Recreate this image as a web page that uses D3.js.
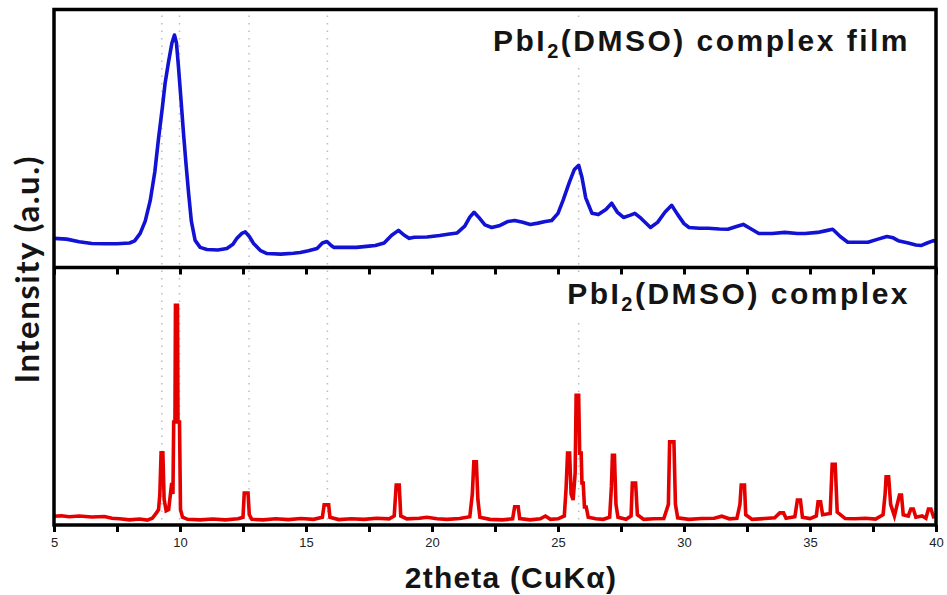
<!DOCTYPE html>
<html>
<head>
<meta charset="utf-8">
<script src="https://cdn.jsdelivr.net/npm/d3@7/dist/d3.min.js"></script>
<style>
  body { margin: 0; background: #fff; }
  svg { display: block; }
</style>
</head>
<body>
<svg id="chart" width="947" height="595"></svg>
<script>
// XRD pattern of the spin-coated PbI2(DMSO) film: [2theta (deg), intensity (a.u.)]
const filmXRD = [
  [5.0,11.3],[5.5,11.0],[6.0,10.0],[6.5,9.3],[7.0,9.2],[7.5,9.2],[8.0,9.5],[8.2,10.3],
  [8.42,13.2],[8.62,18.0],[8.82,26.0],[9.0,37.0],[9.14,49.3],[9.3,62.0],[9.41,71.5],
  [9.55,80.0],[9.68,87.0],[9.78,90.1],[9.86,87.0],[9.94,77.7],[10.04,65.0],[10.14,51.9],
  [10.24,40.0],[10.34,28.9],[10.45,18.0],[10.6,10.5],[10.8,7.8],[11.07,7.0],[11.5,6.8],
  [11.86,7.4],[12.1,9.0],[12.26,11.3],[12.45,13.2],[12.59,13.8],[12.75,12.0],[12.92,9.3],
  [13.2,6.5],[13.45,5.4],[14.0,5.2],[14.5,5.5],[14.77,5.8],[15.1,6.5],[15.44,7.4],
  [15.65,9.5],[15.83,10.1],[16.0,8.5],[16.1,7.8],[16.5,7.8],[17.0,7.8],[17.5,8.3],
  [17.75,8.5],[18.1,9.5],[18.4,12.5],[18.67,14.4],[18.9,12.5],[19.1,11.3],[19.3,11.7],
  [19.8,11.8],[20.3,12.4],[20.7,13.0],[21.0,13.4],[21.3,16.0],[21.5,19.5],[21.67,21.4],
  [21.85,19.5],[22.1,16.5],[22.37,15.5],[22.7,16.3],[23.0,17.8],[23.28,18.2],[23.6,17.5],
  [23.9,16.7],[24.2,17.2],[24.5,17.8],[24.75,18.2],[25.0,21.0],[25.2,26.0],[25.45,33.0],
  [25.65,38.0],[25.82,39.6],[25.95,35.0],[26.1,27.0],[26.35,21.0],[26.6,20.5],[26.9,22.5],
  [27.13,24.9],[27.35,21.5],[27.6,19.4],[27.85,20.2],[28.05,21.0],[28.3,19.0],[28.67,15.5],
  [28.95,17.5],[29.25,21.5],[29.51,24.1],[29.75,20.5],[30.0,17.0],[30.2,15.5],[30.6,15.2],
  [30.96,15.2],[31.4,14.9],[31.74,14.8],[32.05,15.8],[32.35,16.7],[32.65,15.0],[32.97,13.2],
  [33.5,13.2],[34.0,13.6],[34.5,13.2],[34.8,13.2],[35.3,13.6],[35.6,14.2],[35.9,14.8],
  [36.2,12.0],[36.5,9.8],[36.9,9.8],[37.3,9.8],[37.7,11.0],[38.05,12.0],[38.3,11.5],
  [38.5,10.4],[38.9,9.5],[39.2,8.7],[39.4,8.5],[39.65,9.5],[39.9,10.4],[40.0,10.2]
];

// XRD pattern of the PbI2(DMSO) complex powder: [2theta (deg), intensity (a.u.)]
const complexXRD = [
  [5.0,3.4],[5.3,3.6],[5.6,3.2],[6.0,3.5],[6.5,3.1],[7.0,3.3],[7.3,2.6],[7.6,2.4],[8.0,2.0],
  [8.4,2.3],[8.7,1.9],[8.9,2.6],[9.05,4.5],[9.15,6.0],[9.2,12.0],[9.25,28.0],[9.32,28.0],
  [9.37,10.0],[9.45,5.5],[9.55,6.0],[9.62,12.0],[9.67,16.3],[9.72,12.0],[9.75,40.0],
  [9.8,40.0],[9.82,85.3],[9.9,85.3],[9.92,40.0],[9.98,40.0],[10.02,6.0],[10.1,3.0],
  [10.3,2.2],[10.8,2.0],[11.3,2.3],[11.8,2.0],[12.3,2.4],[12.5,3.0],[12.55,12.4],[12.7,12.4],
  [12.75,4.0],[12.85,2.2],[13.3,2.0],[13.8,2.4],[14.3,2.1],[14.8,2.5],[15.3,2.2],[15.65,3.0],
  [15.72,7.8],[15.9,7.8],[15.95,3.0],[16.3,2.1],[16.8,2.4],[17.3,2.2],[17.8,2.6],[18.3,2.4],
  [18.5,3.5],[18.58,15.5],[18.7,15.5],[18.76,3.5],[19.0,2.4],[19.5,2.6],[19.8,3.0],[20.2,2.4],
  [20.6,2.2],[21.1,2.5],[21.5,3.2],[21.6,12.0],[21.66,24.5],[21.76,24.5],[21.82,10.0],
  [21.9,3.0],[22.3,2.2],[22.8,2.0],[23.2,2.4],[23.28,7.1],[23.42,7.1],[23.48,2.5],[23.9,2.0],
  [24.3,2.4],[24.5,3.5],[24.7,2.2],[25.0,2.4],[25.25,3.5],[25.32,14.0],[25.38,27.9],
  [25.46,27.9],[25.52,12.0],[25.6,9.7],[25.68,20.0],[25.72,50.4],[25.82,50.4],[25.86,27.9],
  [25.92,27.9],[25.95,16.3],[26.0,16.3],[26.05,7.0],[26.12,7.0],[26.2,3.0],[26.5,2.4],
  [26.8,2.2],[27.05,3.0],[27.12,15.0],[27.16,27.1],[27.24,27.1],[27.3,8.0],[27.38,3.0],
  [27.7,2.2],[27.9,3.5],[27.95,16.3],[28.08,16.3],[28.15,4.0],[28.4,2.2],[28.8,2.4],
  [29.2,2.5],[29.38,8.0],[29.43,32.3],[29.6,32.3],[29.66,8.0],[29.75,2.8],[30.2,2.2],
  [30.7,2.5],[31.2,2.6],[31.5,3.4],[31.8,2.4],[32.1,2.6],[32.22,8.0],[32.27,15.5],[32.4,15.5],
  [32.45,4.0],[32.7,2.2],[33.2,2.5],[33.6,2.8],[33.8,4.7],[33.95,4.7],[34.05,2.6],[34.4,3.2],
  [34.5,9.7],[34.62,9.7],[34.7,3.0],[35.0,2.5],[35.25,3.5],[35.32,9.0],[35.42,9.0],[35.5,4.0],
  [35.8,4.5],[35.88,23.6],[36.0,23.6],[36.08,5.0],[36.4,2.5],[36.8,2.4],[37.2,2.6],[37.6,2.3],
  [37.9,4.0],[37.98,12.0],[38.02,18.7],[38.12,18.7],[38.2,8.0],[38.35,3.5],[38.55,11.6],
  [38.63,11.6],[38.7,4.0],[38.9,3.5],[39.0,6.2],[39.1,6.2],[39.2,3.0],[39.45,3.5],[39.6,2.6],
  [39.7,6.2],[39.8,6.2],[39.9,3.2],[40.0,3.5]
];

// Reflection positions marked with dotted guide lines (deg)
const guideLines = [9.28, 9.98, 12.74, 15.85, 25.82];

// Axis ticks
const majorTicks = [5, 10, 15, 20, 25, 30, 35, 40];
const minorTicks = [7.5, 12.5, 17.5, 22.5, 27.5, 32.5, 37.5];

const xTitle = "2theta (CuK\u03b1)";
const yTitle = "Intensity (a.u.)";
const filmLabel = ["PbI", "2", "(DMSO) complex film"];
const complexLabel = ["PbI", "2", "(DMSO) complex"];

const W = 947, H = 595;
const plotL = 54, plotR = 936, plotT = 9.5, plotM = 267.5, plotB = 525;

const svg = d3.select("#chart");

const x = d3.scaleLinear().domain([5, 40]).range([plotL, plotR]);
const yTop = d3.scaleLinear().domain([0, 100]).range([plotM, plotT]);
const yBot = d3.scaleLinear().domain([0, 100]).range([plotB, plotM]);

// dotted guide lines across both panels
svg.append("g").selectAll("line").data(guideLines).join("line")
  .attr("x1", d => x(d)).attr("x2", d => x(d))
  .attr("y1", plotT + 6).attr("y2", plotB - 4)
  .attr("stroke", "#bdbdbd").attr("stroke-width", 1.5)
  .attr("stroke-dasharray", "1.5,6");

svg.append("defs").append("clipPath").attr("id", "plotClip")
  .append("rect").attr("x", plotL).attr("y", plotT).attr("width", plotR - plotL).attr("height", plotB - plotT);

const lineTop = d3.line().x(d => x(d[0])).y(d => yTop(d[1]));
const lineBot = d3.line().x(d => x(d[0])).y(d => yBot(d[1]));

const plots = svg.append("g").attr("clip-path", "url(#plotClip)");
plots.append("path").datum(filmXRD)
  .attr("d", lineTop).attr("fill", "none")
  .attr("stroke", "#1212d4").attr("stroke-width", 3.6).attr("stroke-linejoin", "round");
plots.append("path").datum(complexXRD)
  .attr("d", lineBot).attr("fill", "none")
  .attr("stroke", "#e50000").attr("stroke-width", 3.6).attr("stroke-linejoin", "miter");

// panel labels with white backing
function panelLabel(parts, xr, yb) {
  const g = svg.append("g");
  const bg = g.append("rect").attr("fill", "#fff");
  const t = g.append("text")
    .attr("x", xr).attr("y", yb)
    .attr("text-anchor", "end")
    .attr("font-family", "'Liberation Sans', Arial, sans-serif")
    .attr("font-weight", "bold").attr("font-size", 30)
    .attr("letter-spacing", 2.5)
    .attr("fill", "#141414");
  t.append("tspan").text(parts[0]);
  t.append("tspan").attr("font-size", 20).attr("dy", 7).text(parts[1]);
  t.append("tspan").attr("dy", -7).text(parts[2]);
  const bb = t.node().getBBox();
  bg.attr("x", bb.x - 4).attr("y", bb.y - 2).attr("width", bb.width + 8).attr("height", bb.height + 4);
}
panelLabel(filmLabel, 910, 51);
panelLabel(complexLabel, 910, 304);

// frame
svg.append("rect")
  .attr("x", plotL).attr("y", plotT).attr("width", plotR - plotL).attr("height", plotB - plotT)
  .attr("fill", "none").attr("stroke", "#000").attr("stroke-width", 3.5);
svg.append("line")
  .attr("x1", plotL).attr("x2", plotR).attr("y1", plotM).attr("y2", plotM)
  .attr("stroke", "#000").attr("stroke-width", 3.5);

// bottom axis
const axB = svg.append("g").attr("transform", `translate(0,${plotB})`)
  .call(d3.axisBottom(x).tickValues(majorTicks).tickSize(7).tickPadding(6).tickFormat(d3.format("d")));
svg.append("g").attr("transform", `translate(0,${plotB})`)
  .call(d3.axisBottom(x).tickValues(minorTicks).tickSize(7).tickFormat(""));
// inward ticks on the top edge of the lower panel
svg.append("g").attr("transform", `translate(0,${plotM})`)
  .call(d3.axisBottom(x).tickValues(majorTicks.concat(minorTicks)).tickSize(7).tickFormat(""));

svg.selectAll(".domain").remove();
svg.selectAll(".tick line").attr("stroke", "#000").attr("stroke-width", 3);
axB.selectAll(".tick text")
  .attr("font-family", "'Liberation Sans Narrow', 'Liberation Sans', Arial, sans-serif")
  .attr("font-size", 13).attr("fill", "#222");

// axis titles
svg.append("text")
  .attr("x", (plotL + plotR) / 2 + 16).attr("y", 588)
  .attr("text-anchor", "middle")
  .attr("font-family", "'Liberation Sans', Arial, sans-serif")
  .attr("font-weight", "bold").attr("font-size", 30)
  .attr("letter-spacing", 1.2)
  .attr("fill", "#141414")
  .text(xTitle);

svg.append("text")
  .attr("transform", `translate(39,${(plotT + plotB) / 2 + 2}) rotate(-90)`)
  .attr("text-anchor", "middle")
  .attr("font-family", "Lato, 'Open Sans', sans-serif")
  .attr("font-weight", "bold").attr("font-size", 33)
  .attr("letter-spacing", 1.5)
  .attr("fill", "#141414")
  .text(yTitle);
</script>
</body>
</html>
